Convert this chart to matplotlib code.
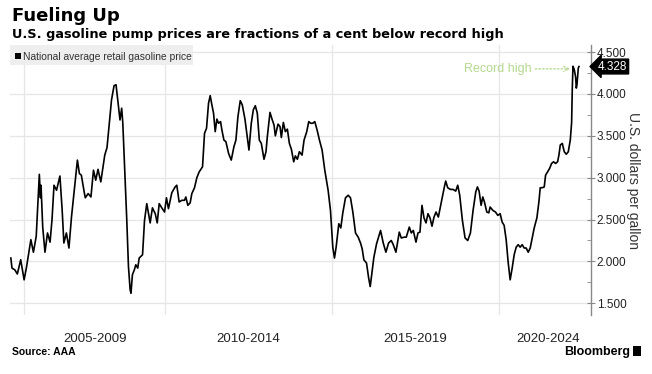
import numpy as np
import matplotlib
matplotlib.use('Agg')
import matplotlib.pyplot as plt
from matplotlib.patches import Rectangle

plt.rcParams['font.family'] = ['Liberation Sans', 'DejaVu Sans']

# national average retail gasoline price, $/gal
dates = [
    2004.53, 2004.57, 2004.67, 2004.76, 2004.88, 2005.00, 2005.08, 2005.24, 2005.33, 2005.43,
    2005.54, 2005.58, 2005.60, 2005.66, 2005.74, 2005.83, 2005.92, 2005.99, 2006.06, 2006.15,
    2006.27, 2006.35, 2006.41, 2006.50, 2006.59, 2006.68, 2006.77, 2006.89, 2006.96, 2007.03,
    2007.13, 2007.17, 2007.27, 2007.37, 2007.46, 2007.54, 2007.62, 2007.72, 2007.86, 2007.94,
    2008.01, 2008.10, 2008.19, 2008.26, 2008.33, 2008.40, 2008.46, 2008.50, 2008.57, 2008.64,
    2008.70, 2008.76, 2008.79, 2008.84, 2008.91, 2008.96, 2009.03, 2009.08, 2009.20, 2009.27,
    2009.35, 2009.47, 2009.55, 2009.65, 2009.72, 2009.79, 2009.90, 2009.98, 2010.04, 2010.10,
    2010.20, 2010.30, 2010.35, 2010.42, 2010.50, 2010.58, 2010.62, 2010.68, 2010.75, 2010.80,
    2010.88, 2010.95, 2011.02, 2011.12, 2011.18, 2011.24, 2011.30, 2011.35, 2011.40, 2011.45,
    2011.50, 2011.55, 2011.60, 2011.66, 2011.70, 2011.76, 2011.82, 2011.90, 2011.98, 2012.06,
    2012.12, 2012.18, 2012.25, 2012.31, 2012.39, 2012.46, 2012.51, 2012.58, 2012.64, 2012.70,
    2012.76, 2012.82, 2012.88, 2012.96, 2013.02, 2013.06, 2013.14, 2013.20, 2013.26, 2013.30,
    2013.38, 2013.44, 2013.48, 2013.54, 2013.60, 2013.66, 2013.72, 2013.78, 2013.85, 2013.90,
    2013.96, 2014.02, 2014.10, 2014.16, 2014.24, 2014.30, 2014.36, 2014.42, 2014.48, 2014.55,
    2014.62, 2014.70, 2014.78, 2014.88, 2014.95, 2015.02, 2015.07, 2015.12, 2015.20, 2015.26,
    2015.32, 2015.40, 2015.48, 2015.55, 2015.62, 2015.70, 2015.78, 2015.85, 2015.90, 2015.95,
    2016.03, 2016.09, 2016.14, 2016.19, 2016.25, 2016.33, 2016.39, 2016.45, 2016.53, 2016.61,
    2016.69, 2016.77, 2016.83, 2016.91, 2017.01, 2017.07, 2017.16, 2017.22, 2017.31, 2017.37,
    2017.43, 2017.51, 2017.57, 2017.63, 2017.69, 2017.75, 2017.81, 2017.87, 2017.93, 2017.99,
    2018.05, 2018.11, 2018.18, 2018.24, 2018.30, 2018.36, 2018.40, 2018.46, 2018.54, 2018.62,
    2018.70, 2018.76, 2018.82, 2018.90, 2018.98, 2019.06, 2019.14, 2019.22, 2019.30, 2019.35,
    2019.40, 2019.46, 2019.51, 2019.56, 2019.63, 2019.69, 2019.73, 2019.81, 2019.89, 2019.96,
    2020.03, 2020.09, 2020.15, 2020.21, 2020.27, 2020.33, 2020.39, 2020.45, 2020.51, 2020.57,
    2020.63, 2020.69, 2020.75, 2020.81, 2020.87, 2020.93, 2020.99, 2021.05, 2021.13, 2021.19,
    2021.23, 2021.29, 2021.35, 2021.39, 2021.45, 2021.51, 2021.57, 2021.63, 2021.69, 2021.75,
    2021.79, 2021.83, 2021.89, 2021.95, 2022.01, 2022.07, 2022.13, 2022.17, 2022.19, 2022.21,
    2022.25, 2022.29, 2022.31, 2022.33, 2022.37, 2022.39,
]
prices = [
    2.04, 1.92, 1.90, 1.85, 2.02, 1.78, 1.92, 2.26, 2.11, 2.30,
    3.04, 2.76, 2.91, 2.41, 2.11, 2.34, 2.23, 2.50, 2.91, 2.85,
    3.02, 2.61, 2.22, 2.34, 2.16, 2.53, 2.82, 3.21, 3.05, 3.03,
    2.83, 2.76, 2.81, 2.77, 3.09, 2.97, 3.10, 2.95, 3.27, 3.36,
    3.61, 3.93, 4.10, 4.11, 3.90, 3.69, 3.83, 3.65, 3.09, 2.50,
    1.94, 1.66, 1.62, 1.84, 1.90, 1.96, 1.92, 2.04, 2.08, 2.49,
    2.69, 2.46, 2.64, 2.57, 2.46, 2.69, 2.63, 2.59, 2.76, 2.63,
    2.82, 2.89, 2.91, 2.71, 2.73, 2.73, 2.77, 2.67, 2.70, 2.81,
    2.88, 3.00, 3.07, 3.13, 3.53, 3.59, 3.89, 3.98, 3.87, 3.77,
    3.55, 3.70, 3.65, 3.67, 3.57, 3.45, 3.43, 3.29, 3.21, 3.37,
    3.45, 3.73, 3.92, 3.87, 3.70, 3.49, 3.33, 3.65, 3.81, 3.86,
    3.77, 3.45, 3.41, 3.22, 3.31, 3.49, 3.78, 3.70, 3.63, 3.50,
    3.64, 3.61, 3.48, 3.66, 3.55, 3.58, 3.41, 3.34, 3.19, 3.26,
    3.22, 3.31, 3.27, 3.45, 3.55, 3.67, 3.65, 3.65, 3.67, 3.57,
    3.45, 3.33, 3.09, 2.85, 2.61, 2.17, 2.04, 2.17, 2.45, 2.40,
    2.58, 2.76, 2.79, 2.76, 2.59, 2.34, 2.29, 2.22, 2.15, 2.02,
    1.98, 1.81, 1.70, 1.86, 2.05, 2.21, 2.29, 2.37, 2.22, 2.11,
    2.22, 2.25, 2.20, 2.11, 2.35, 2.28, 2.29, 2.29, 2.41, 2.34,
    2.37, 2.23, 2.34, 2.35, 2.67, 2.52, 2.46, 2.57, 2.52, 2.42,
    2.53, 2.59, 2.53, 2.65, 2.77, 2.89, 2.96, 2.88, 2.86, 2.86,
    2.84, 2.91, 2.79, 2.49, 2.28, 2.25, 2.34, 2.61, 2.83, 2.89,
    2.84, 2.67, 2.77, 2.71, 2.59, 2.58, 2.65, 2.61, 2.59, 2.55,
    2.57, 2.47, 2.43, 2.26, 1.99, 1.78, 1.92, 2.08, 2.17, 2.20,
    2.17, 2.20, 2.16, 2.16, 2.11, 2.16, 2.28, 2.40, 2.52, 2.71,
    2.88, 2.88, 2.89, 3.03, 3.07, 3.11, 3.17, 3.19, 3.17, 3.19,
    3.27, 3.39, 3.41, 3.31, 3.28, 3.31, 3.45, 3.66, 4.07, 4.331,
    4.29, 4.20, 4.07, 4.11, 4.31, 4.328,
]

grid_years = [2005, 2010, 2015, 2020]
label_years = [2007.5, 2012.5, 2017.5, 2021.45]
period_labels = ['2005-2009', '2010-2014', '2015-2019', '2020-2024']
y_ticks = [1.5, 2.0, 2.5, 3.0, 3.5, 4.0, 4.5]

# early years are drawn narrower on the source chart
EARLY = 28.2 / 33.4

def fwd(x):
    x = np.asarray(x, dtype=float)
    return np.where(x < 2010, 2010 - (2010 - x) * EARLY, x)

def inv(x):
    x = np.asarray(x, dtype=float)
    return np.where(x < 2010, 2010 - (2010 - x) / EARLY, x)

W, H = 652, 374
fig = plt.figure(figsize=(W / 100, H / 100), dpi=100)
ax = fig.add_axes([10 / W, 59 / H, 581 / W, 270 / H])

ax.set_xscale('function', functions=(fwd, inv))
ax.set_xlim(2004.5, 2022.75)
ax.set_ylim(1.36, 4.585)

ax.plot(dates, prices, color='black', lw=1.2, zorder=3)

ax.set_xticks(grid_years)
ax.set_xticklabels([])
ax.set_xticks(label_years, minor=True)
ax.set_xticklabels(period_labels, minor=True, fontsize=9.5, color='#222222')
ax.tick_params(axis='x', which='both', length=0, pad=13)

ax.yaxis.tick_right()
ax.set_yticks(y_ticks)
ax.set_yticklabels([f'{v:.3f}' for v in y_ticks], fontsize=8.5, color='#222222')
ax.set_yticks([v + 0.25 for v in y_ticks[:-1]], minor=True)
ax.tick_params(axis='y', which='major', direction='inout', length=6, color='#888888', pad=1)
ax.tick_params(axis='y', which='minor', direction='in', length=3, color='#888888')

ax.grid(True, which='major', color='#e6e6e6', lw=0.9)
for side in ['top', 'left', 'bottom']:
    ax.spines[side].set_visible(False)
ax.spines['right'].set_color('#888888')
ax.spines['right'].set_linewidth(1)

green = '#b5d88f'
ax.annotate('Record high', xy=(2022.13, 4.30), xytext=(2020.96, 4.30),
            ha='right', va='center', color=green, fontsize=9,
            arrowprops=dict(arrowstyle='->', color=green, linestyle=':', lw=1,
                            shrinkA=1, shrinkB=0))

ax.text(1.037, prices[-1], f'{prices[-1]:.3f}', transform=ax.get_yaxis_transform(),
        ha='center', va='center', color='white', fontsize=8.5, zorder=6,
        bbox=dict(boxstyle='larrow,pad=0.12', fc='black', ec='black'), clip_on=False)

fig.text(633 / W, 1 - 180 / H, 'U.S. dollars per gallon', rotation=270,
         ha='center', va='center', fontsize=10, color='#333333')

# legend strip
fig.patches.append(Rectangle((10 / W, 1 - 65 / H), 183 / W, 20 / H, transform=fig.transFigure,
                             fc='#eeeeee', ec='none', zorder=4))
fig.patches.append(Rectangle((15 / W, 1 - 59 / H), 6 / W, 6 / H, transform=fig.transFigure,
                             fc='black', ec='none', zorder=5))
fig.text(23 / W, 1 - 59.5 / H, 'National average retail gasoline price', fontsize=7.4,
         color='#333333', va='baseline', zorder=5)

fig.text(12 / W, 1 - 21 / H, 'Fueling Up', fontsize=13, fontweight='bold',
         family='DejaVu Sans', va='baseline')
fig.text(12 / W, 1 - 38 / H, 'U.S. gasoline pump prices are fractions of a cent below record high',
         fontsize=9.3, fontweight='bold', family='DejaVu Sans', va='baseline')

fig.text(12 / W, 1 - 355 / H, 'Source: AAA', fontsize=7.5, fontweight='bold', va='baseline')
fig.text(630 / W, 1 - 355 / H, 'Bloomberg', fontsize=9, fontweight='bold', ha='right', va='baseline')
fig.patches.append(Rectangle((633 / W, 1 - 356 / H), 8 / W, 10 / H, transform=fig.transFigure,
                             fc='black', ec='none'))

fig.savefig('out.png', dpi=100)
